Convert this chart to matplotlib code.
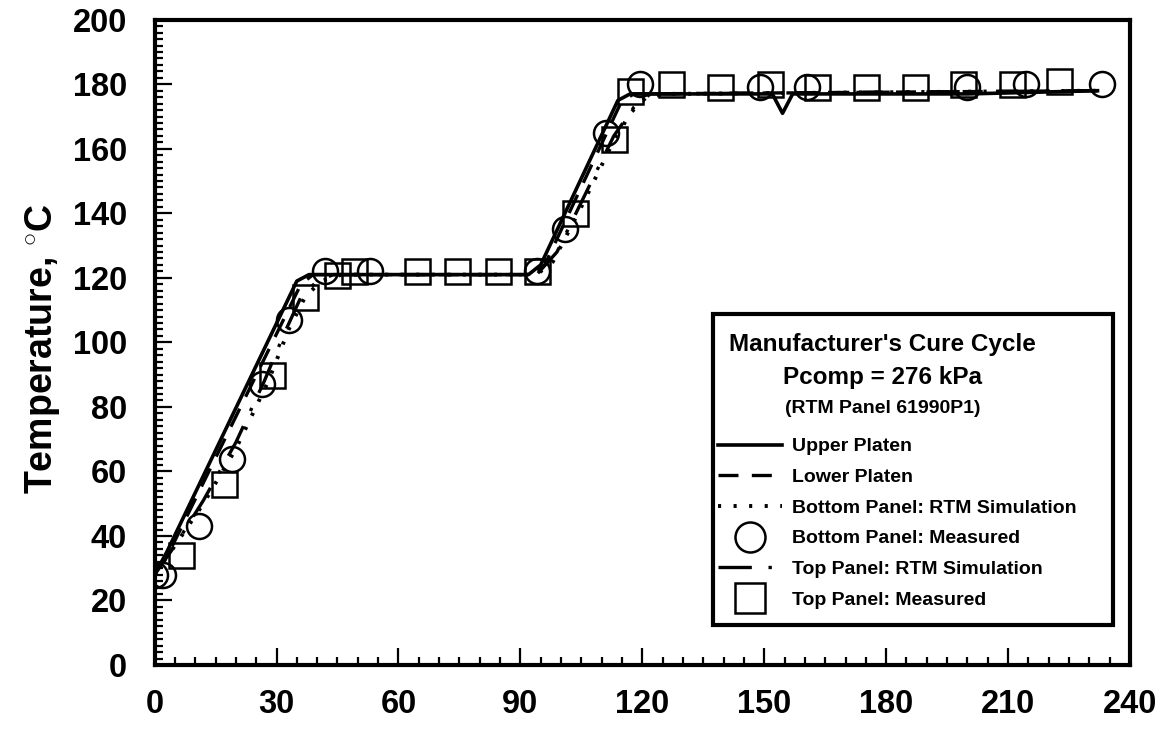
import numpy as np
import matplotlib.pyplot as plt
from matplotlib.patches import Rectangle
from matplotlib.ticker import MultipleLocator

plt.rcParams['font.family'] = ['Liberation Sans', 'DejaVu Sans']
plt.rcParams['font.weight'] = 'bold'
plt.rcParams['axes.labelweight'] = 'bold'
plt.rcParams['mathtext.fontset'] = 'custom'
plt.rcParams['mathtext.rm'] = 'Liberation Sans:bold'

# 压板温度 (时间 min, 温度 C)
upper_t = [0, 3, 35, 38, 92, 95, 114, 117, 152, 154.5, 157, 200, 232]
upper_T = [28, 35, 119, 121, 121, 124, 175, 177, 177, 171, 177, 177, 178]
lower_t = [0, 4, 36, 39, 93, 96, 115, 118, 232]
lower_T = [28, 36, 118, 121, 121, 124, 175, 177, 178]

# RTM 模拟
bot_sim_t = [0, 5, 12, 20, 28, 33, 37, 41, 46, 94, 98, 105, 112, 117, 121, 126, 232]
bot_sim_T = [28, 37, 50, 67, 88, 104, 114, 119, 121, 121, 125, 142, 160, 171, 176, 177, 178]
top_sim_t = [0, 5, 12, 20, 27, 32, 36, 40, 44, 94, 99, 106, 113, 118, 122, 232]
top_sim_T = [28, 37, 51, 69, 88, 103, 114, 119, 121, 121, 128, 146, 164, 173, 177, 178]

# 实测
bot_meas_t = [0, 2, 11, 19, 26.5, 33, 42, 53, 94, 101, 111, 119.5, 149, 160.5, 200, 214.5, 233]
bot_meas_T = [28, 28, 43, 64, 87, 107, 122, 122, 122, 135, 165, 180, 179, 179, 179, 180, 180]
top_meas_t = [6.5, 17, 29, 37, 45, 49, 64.5, 74.5, 84.5, 94, 103.5, 113, 117,
              127, 139, 151.5, 163, 175, 187, 199, 211, 222.5]
top_meas_T = [34, 56, 90, 114, 121, 122, 122, 122, 122, 122, 140, 163, 178,
              180, 179, 180, 179, 179, 179, 180, 180, 181]

labels = ['Upper Platen', 'Lower Platen', 'Bottom Panel: RTM Simulation',
          'Bottom Panel: Measured', 'Top Panel: RTM Simulation', 'Top Panel: Measured']

fig = plt.figure(figsize=(11.71, 7.3), dpi=100)
ax = fig.add_axes([0.132, 0.089, 0.833, 0.884])

ax.plot(upper_t, upper_T, '-', color='k', lw=2.6, label=labels[0])
ax.plot(lower_t, lower_T, color='k', lw=2.4, dashes=(6, 4), label=labels[1])
ax.plot(bot_sim_t, bot_sim_T, color='k', lw=2.8, dashes=(0.8, 3.2), label=labels[2])
ax.plot(bot_meas_t, bot_meas_T, 'o', ms=18, mfc='none', mec='k', mew=1.8, label=labels[3])
ax.plot(top_sim_t, top_sim_T, color='k', lw=2.4, dashes=(10, 5, 1, 5), label=labels[4])
ax.plot(top_meas_t, top_meas_T, 's', ms=18, mfc='none', mec='k', mew=1.8, label=labels[5])

ax.set_xlim(0, 240)
ax.set_ylim(0, 200)
ax.xaxis.set_major_locator(MultipleLocator(30))
ax.xaxis.set_minor_locator(MultipleLocator(5))
ax.yaxis.set_major_locator(MultipleLocator(20))
ax.yaxis.set_minor_locator(MultipleLocator(2))
ax.tick_params(which='both', direction='in', top=False, right=False, width=1.6)
ax.tick_params(which='major', length=12, labelsize=23.5)
ax.tick_params(axis='x', which='major', pad=17)
ax.tick_params(axis='y', which='major', pad=20)
ax.tick_params(which='minor', length=6)
for s in ax.spines.values():
    s.set_linewidth(3)
ax.set_ylabel(r'Temperature, $^{\circ}$C', fontsize=27)
ax.yaxis.set_label_coords(-0.095, 0.49)

# 图例框
ax.add_patch(Rectangle((0.572, 0.062), 0.411, 0.482, transform=ax.transAxes,
                       fill=False, lw=3, ec='k', zorder=5))
ax.text(0.746, 0.497, "Manufacturer's Cure Cycle", transform=ax.transAxes,
        ha='center', va='center', fontsize=17.5)
ax.text(0.746, 0.446, 'Pcomp = 276 kPa', transform=ax.transAxes,
        ha='center', va='center', fontsize=17.5)
ax.text(0.746, 0.398, '(RTM Panel 61990P1)', transform=ax.transAxes,
        ha='center', va='center', fontsize=14)
ax.legend(loc='upper left', bbox_to_anchor=(0.578, 0.352), frameon=False,
          fontsize=14, handlelength=3.25, handletextpad=0.55, labelspacing=0.67,
          borderpad=0, borderaxespad=0, markerscale=1.2)

fig.savefig('out.png', dpi=100)
